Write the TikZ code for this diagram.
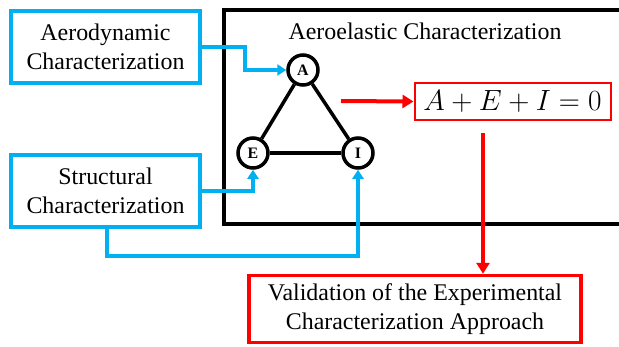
\documentclass[tikz,border=0pt]{standalone}
\usepackage{graphicx}
\usepackage{fontspec}
\setmainfont{Liberation Serif}
\usetikzlibrary{arrows.meta}
\definecolor{skyblue}{RGB}{0,176,240}
\definecolor{pptred}{RGB}{255,0,0}
\begin{document}
\begin{tikzpicture}[x=1bp,y=-1bp,
  bluebox/.style={draw=skyblue,line width=3.5bp,minimum width=189bp,minimum height=72bp,align=center,font=\fontsize{24}{29}\selectfont,inner sep=0pt},
  letter/.style={circle,draw=black,line width=3.5bp,minimum size=30bp,inner sep=0pt,font=\fontsize{16}{16}\selectfont\bfseries},
  tri/.style={line width=3.5bp,black},
  bluearrow/.style={draw=skyblue,line width=3.5bp,-{Triangle[length=9bp,width=11bp]}},
  redarrow/.style={draw=pptred,line width=4bp,-{Triangle[length=11bp,width=13bp]}}
]
\useasboundingbox (0,0) rectangle (619,346);
% outer container
\draw[line width=4bp,black] (619,10) -- (224,10) -- (224,224) -- (619,224);
\node[font=\fontsize{24}{29}\selectfont] (title) at (425,31) {Aeroelastic Characterization};
% blue boxes
\node[bluebox] (aero) at (105.5,47) {Aerodynamic\\Characterization};
\node[bluebox] (struct) at (105.5,191) {Structural\\Characterization};
% circles
\node[letter] (A) at (303,70) {A};
\node[letter] (E) at (253,153) {E};
\node[letter] (I) at (358,153) {I};
\draw[tri] (A) -- (E);
\draw[tri] (E) -- (I);
\draw[tri] (A) -- (I);
% blue connectors
\coordinate (a1) at (245,47);
\draw[bluearrow] (aero.east) -- (a1) |- (A.west);
\draw[bluearrow] (struct.east) -| (E.south);
\coordinate (s1) at (107,256);
\draw[bluearrow] (struct.south -| s1) -- (s1) -| (I.south);
% equation
\node[draw=pptred,line width=2bp,minimum width=196bp,minimum height=37bp,inner sep=0pt,font=\fontsize{30}{30}\selectfont] (eq) at (512.5,101.5) {\scalebox{1.18}{$A+E+I=0$}};
\coordinate (r0) at (341,101);
\draw[redarrow] (r0) -- (eq.west);
% validation
\node[draw=pptred,line width=3.5bp,minimum width=332bp,minimum height=67bp,inner sep=0pt,align=center,font=\fontsize{24}{29}\selectfont] (val) at (415,309) {Validation of the Experimental\\Characterization Approach};
\coordinate (r1) at (483,133);
\draw[redarrow] (r1) -- (r1 |- val.north);
\end{tikzpicture}
\end{document}
